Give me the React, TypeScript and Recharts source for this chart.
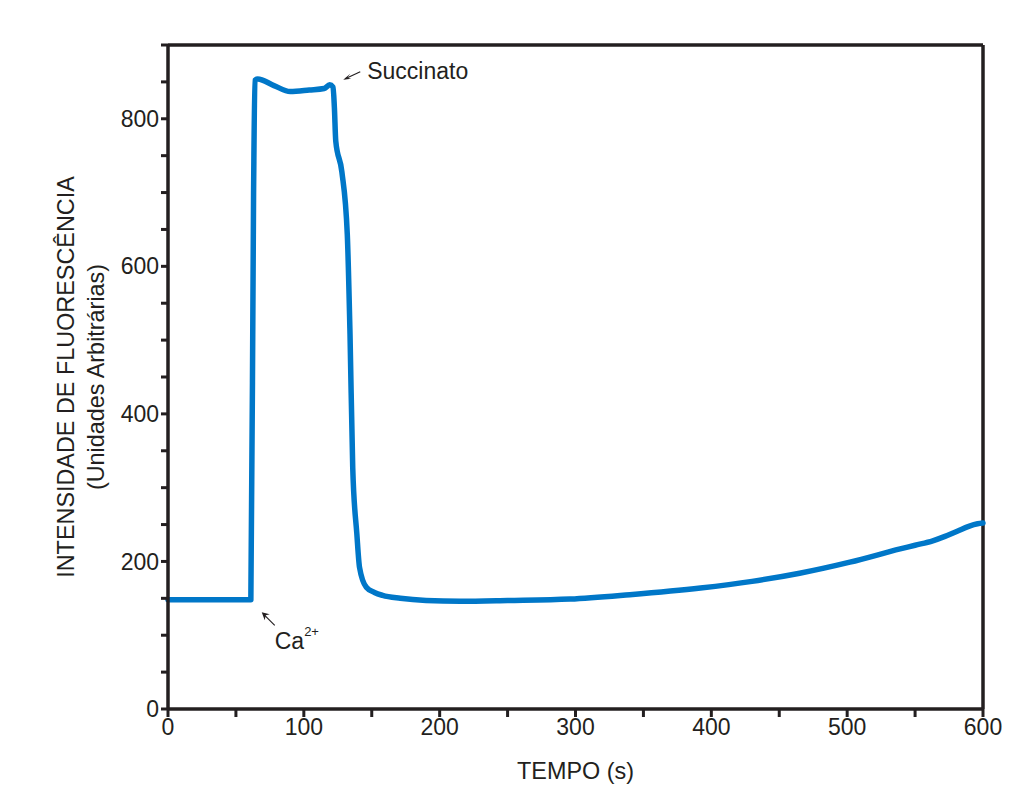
import { LineChart, Line, XAxis, YAxis, ReferenceLine, ReferenceDot, Label } from 'recharts';

// time (s) and fluorescence intensity
const TIME = [
  0, 30, 61, 63, 64, 66, 78, 90, 104, 115, 119, 121.5, 122.5, 123.5, 128, 132, 134, 136, 139, 141,
  146, 152, 158, 171, 190, 215, 250, 296, 340, 392, 430, 465, 502, 539, 550, 563, 572, 581, 590, 596, 600,
];
const INTENSITY = [
  148, 148, 148, 700, 852, 854, 845, 837, 839, 841, 846, 843, 815, 770, 728, 643, 508, 327, 238, 192,
  165, 158, 154, 150, 147, 146, 147, 149, 155, 164, 173, 184, 199, 217, 222, 228, 234, 241, 248, 251, 252,
];

const X_TICKS = [0, 50, 100, 150, 200, 250, 300, 350, 400, 450, 500, 550, 600];
const Y_TICKS = [0, 50, 100, 150, 200, 250, 300, 350, 400, 450, 500, 550, 600, 650, 700, 750, 800, 850, 900];

// annotation anchors (data coords of arrow tips)
const SUCCINATO_AT = { x: 129, y: 853 };
const CA_AT = { x: 69, y: 131 };

const INK = '#231f20';
const BLUE = '#0077c8';
const FONT = '"Liberation Sans", Arial, sans-serif';

const chartData = TIME.map((t, i) => ({ t, v: INTENSITY[i] }));

function SuccinatoMark({ cx, cy }: { cx?: number; cy?: number }) {
  if (cx == null || cy == null) return null;
  return (
    <g>
      <line x1={cx + 17} y1={cy - 8} x2={cx + 2} y2={cy - 1} stroke={INK} strokeWidth={1.2} />
      <path d={`M${cx} ${cy} L${cx + 7} ${cy - 6} L${cx + 4} ${cy - 2} L${cx + 8} ${cy - 1} Z`} fill={INK} />
      <text x={cx + 24} y={cy - 1} fontSize={23} fill={INK} fontFamily={FONT}>
        Succinato
      </text>
    </g>
  );
}

function CaMark({ cx, cy }: { cx?: number; cy?: number }) {
  if (cx == null || cy == null) return null;
  return (
    <g>
      <line x1={cx + 13} y1={cy + 13} x2={cx + 2} y2={cy + 2} stroke={INK} strokeWidth={1.2} />
      <path d={`M${cx} ${cy} L${cx + 8} ${cy + 2} L${cx + 4} ${cy + 3} L${cx + 3} ${cy + 8} Z`} fill={INK} />
      <text x={cx + 13} y={cy + 37} fontSize={23} fill={INK} fontFamily={FONT}>
        Ca
        <tspan fontSize={13} dy={-13}>2+</tspan>
      </text>
    </g>
  );
}

function YTitle({ viewBox }: { viewBox?: { x: number; y: number; width: number; height: number } }) {
  if (!viewBox) return null;
  const cy = viewBox.y + viewBox.height / 2;
  const x1 = 58;
  const x2 = 88;
  return (
    <g fontFamily={FONT} fontSize={23.4} fill={INK}>
      <text x={x1} y={cy} textAnchor="middle" dominantBaseline="central" transform={`rotate(-90 ${x1} ${cy})`}>
        INTENSIDADE DE FLUORESCÊNCIA
      </text>
      <text x={x2} y={cy} textAnchor="middle" dominantBaseline="central" transform={`rotate(-90 ${x2} ${cy})`}>
        (Unidades Arbitrárias)
      </text>
    </g>
  );
}

export default function App() {
  return (
    <div style={{ width: 1004, height: 787, background: '#fff' }}>
      <LineChart
        width={1004}
        height={787}
        data={chartData}
        margin={{ top: 37, right: 29, left: 80, bottom: 46 }}
      >
        <XAxis
          dataKey="t"
          type="number"
          domain={[0, 600]}
          ticks={X_TICKS}
          interval={0}
          tickFormatter={(v: number) => (v % 100 === 0 ? String(v) : '')}
          tick={{ fontSize: 23, fill: INK, fontFamily: FONT }}
          tickSize={8}
          height={40}
          axisLine={{ stroke: INK, strokeWidth: 3.5 }}
          tickLine={{ stroke: INK, strokeWidth: 3 }}
        >
          <Label
            value="TEMPO (s)"
            position="bottom"
            offset={13}
            style={{ fontSize: 23.4, fill: INK, fontFamily: FONT }}
          />
        </XAxis>
        <YAxis
          type="number"
          domain={[0, 900]}
          ticks={Y_TICKS}
          interval={0}
          tickFormatter={(v: number) => (v % 200 === 0 && v <= 800 ? String(v) : '')}
          tick={{ fontSize: 23, fill: INK, fontFamily: FONT }}
          tickSize={7}
          width={80}
          axisLine={{ stroke: INK, strokeWidth: 3.5 }}
          tickLine={{ stroke: INK, strokeWidth: 3 }}
        >
          <Label content={<YTitle />} />
        </YAxis>
        {/* box frame: top and right */}
        <ReferenceLine y={900} stroke={INK} strokeWidth={3.5} />
        <ReferenceLine x={600} stroke={INK} strokeWidth={3.5} />
        <Line
          type="monotone"
          dataKey="v"
          stroke={BLUE}
          strokeWidth={5.5}
          dot={false}
          strokeLinejoin="round"
          strokeLinecap="round"
          isAnimationActive={false}
        />
        <ReferenceDot x={SUCCINATO_AT.x} y={SUCCINATO_AT.y} r={0} shape={(p: any) => <SuccinatoMark cx={p.cx} cy={p.cy} />} />
        <ReferenceDot x={CA_AT.x} y={CA_AT.y} r={0} shape={(p: any) => <CaMark cx={p.cx} cy={p.cy} />} />
      </LineChart>
    </div>
  );
}
